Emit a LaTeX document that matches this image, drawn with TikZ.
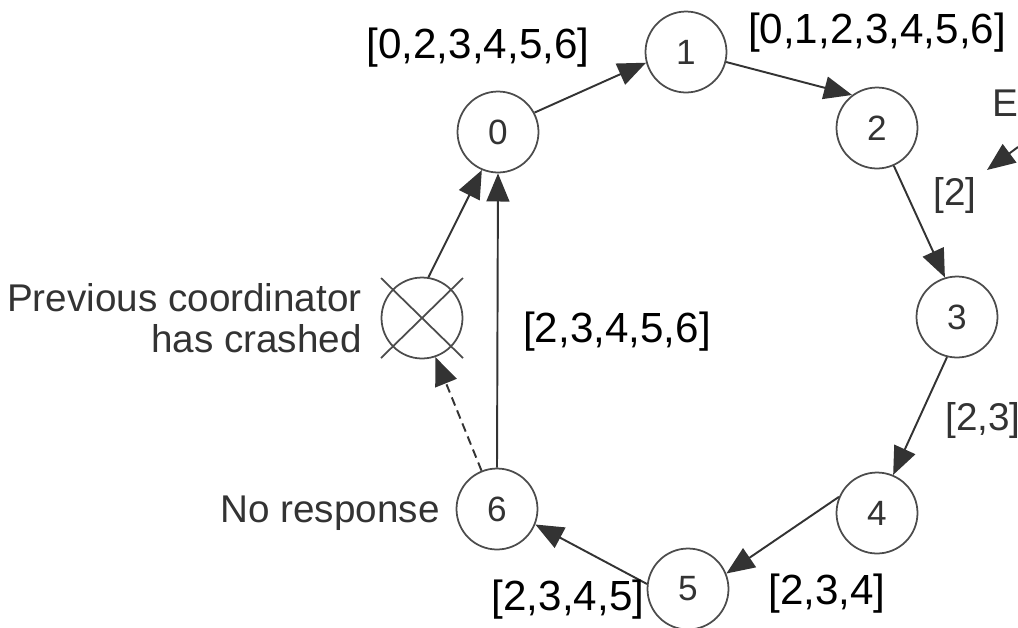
\documentclass[tikz,border=0pt]{standalone}
\usepackage{fontspec}
\setmainfont{Liberation Sans}
\usetikzlibrary{arrows.meta}

\begin{document}
\begin{tikzpicture}
	[x=0.02cm,y=-0.02cm,
	proc/.style={circle,draw=black!70,line width=1pt,minimum size=1.62cm,
		inner sep=0pt,text=black!80,font=\fontsize{20}{24}\selectfont},
	msg/.style={-{Triangle[length=16pt,width=13pt]},line width=1.1pt,black!80},
	big/.style={inner sep=0pt,font=\fontsize{24}{28}\selectfont},
	small/.style={inner sep=0pt,text=black!80,font=\fontsize{22}{23.5}\selectfont}]
	\useasboundingbox (0,0) rectangle (1018,627);
	\node[proc] (p0) at (498,132) {0};
	\node[proc] (p1) at (686,52) {1};
	\node[proc] (p2) at (877,128) {2};
	\node[proc] (p3) at (957,317) {3};
	\node[proc] (p4) at (877,513) {4};
	\node[proc] (p5) at (688,589) {5};
	\node[proc] (p6) at (497,509) {6};
	\node[proc] (px) at (422,318) {};
	\draw[black!70,line width=1pt] ([shift={(-41,-40)}]px.center) -- ([shift={(41,40)}]px.center);
	\draw[black!70,line width=1pt] ([shift={(-41,40)}]px.center) -- ([shift={(41,-40)}]px.center);
	\draw[msg] (p0.28) -- (p1.195);
	\draw[msg] (p1.-14) -- (p2.127);
	\draw[msg] (p2.-66) -- (p3.107);
	\draw[msg] (p3.-104) -- (p4.67);
	\draw[msg] (p4.157) -- (p5.22);
	\draw[msg] (p5.173) -- (p6.-22);
	\draw[msg] (p6.north) -- (p0.south);
	\draw[msg,dash pattern=on 5pt off 3pt] (p6.112) -- (px.-71);
	\draw[msg] (px.81) -- (p0.-113);
	\coordinate (eout) at (1018,147);
	\coordinate (ein) at (987,170);
	\draw[msg] (eout) -- (ein);
	\node[big] (l01) at (478,48) {[0,2,3,4,5,6]};
	\node[big] (l12) at (877,33) {[0,1,2,3,4,5,6]};
	\node[small] (l23) at (955,195) {[2]};
	\node[small] (l34) at (983,420) {[2,3]};
	\node[big] (l45) at (827,594) {[2,3,4]};
	\node[big] (l56) at (568,600) {[2,3,4,5]};
	\node[big] (l60) at (617,332) {[2,3,4,5,6]};
	\node[small] (le) at (1005,103) {E};
	\node[small,align=right,anchor=east] (lcrash) at (362,318) {Previous coordinator\\has crashed};
	\node[small,anchor=east] (lnone) at (440,513) {No response};
\end{tikzpicture}
\end{document}
